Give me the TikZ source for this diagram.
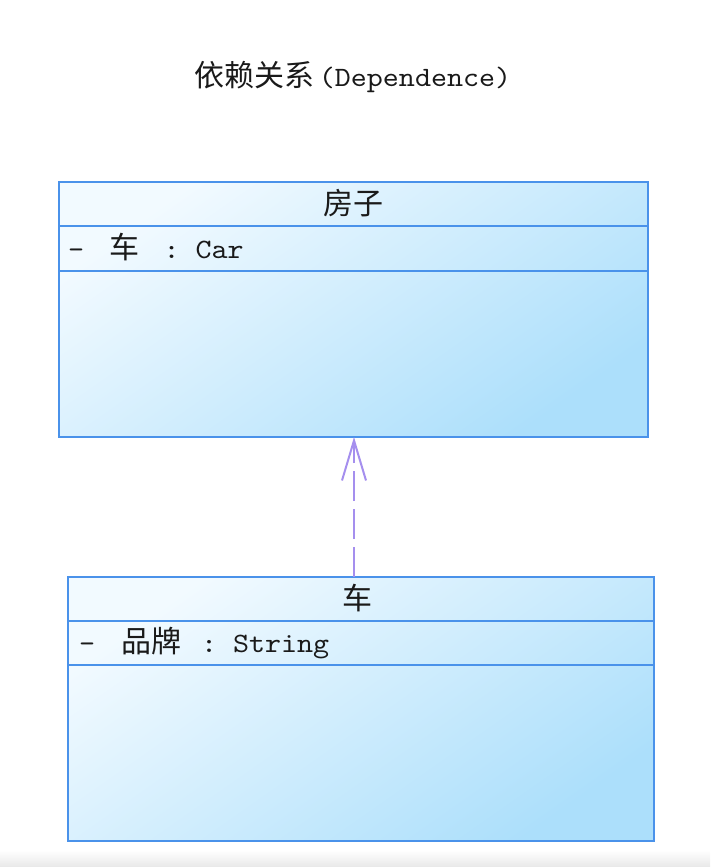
\documentclass[tikz,border=0pt]{standalone}
\usepackage{fontspec}
\setmonofont{lmmono10-regular.otf}[FakeStretch=1.09]
\newfontfamily\cjk{Noto Sans CJK SC}
\usetikzlibrary{arrows.meta}
\definecolor{umlborder}{HTML}{4A92EA}
\definecolor{fillA}{HTML}{F2FAFF}
\definecolor{fillB}{HTML}{ACDFFB}
\definecolor{depcol}{HTML}{A58FEE}
\definecolor{textcol}{HTML}{1A1A1A}
\newcommand\zhtxt[1]{{\fontsize{30}{34}\cjk #1}}
\tikzset{
  classbox/.style={draw=umlborder, line width=1.8pt, inner sep=0pt, outer sep=0pt,
    shading=axis, top color=fillA, bottom color=fillB, shading angle=35},
  divider/.style={draw=umlborder, line width=1.8pt},
  monotxt/.style={font=\fontsize{28}{32}\selectfont\ttfamily, text=textcol, inner sep=0pt, outer sep=0pt},
  deparrow/.style={draw=depcol, line width=2pt, dash pattern=on 30pt off 8pt,
    -{Straight Barb[length=40pt, width=24pt, line width=2pt]}}
}
\begin{document}
\begin{tikzpicture}[x=1pt,y=-1pt]
\useasboundingbox (0,0) rectangle (710,867);
\fill[white] (0,0) rectangle (710,867);
\shade[top color=white, bottom color=black!9] (0,850) rectangle (710,867);
% title
\node[monotxt, anchor=base] (title) at (353,86) {\zhtxt{依赖关系}\hspace{4pt}(Dependence)};
% class 房子
\node[classbox, minimum width=589pt, minimum height=255pt, anchor=north west] (house) at (59,182) {};
\draw[divider] (house.west |- 0,226) -- (house.east |- 0,226);
\draw[divider] (house.west |- 0,271) -- (house.east |- 0,271);
\node[monotxt, anchor=base] (househead) at (353.5,214) {\zhtxt{房子}};
\node[monotxt, anchor=base west] (houseattr) at (68,258) {-\hspace{25pt}\zhtxt{车}\hspace{24.5pt}: Car};
% class 车
\node[classbox, minimum width=586pt, minimum height=264pt, anchor=north west] (car) at (68,577) {};
\draw[divider] (car.west |- 0,621) -- (car.east |- 0,621);
\draw[divider] (car.west |- 0,665) -- (car.east |- 0,665);
\node[monotxt, anchor=base] (carhead) at (357,609) {\zhtxt{车}};
\node[monotxt, anchor=base west] (carattr) at (79,652) {-\hspace{26pt}\zhtxt{品牌}\hspace{20pt}: String};
% dependency
\coordinate (tip) at (354,437);
\draw[deparrow] (car.north -| tip) -- (tip);
\end{tikzpicture}
\end{document}
